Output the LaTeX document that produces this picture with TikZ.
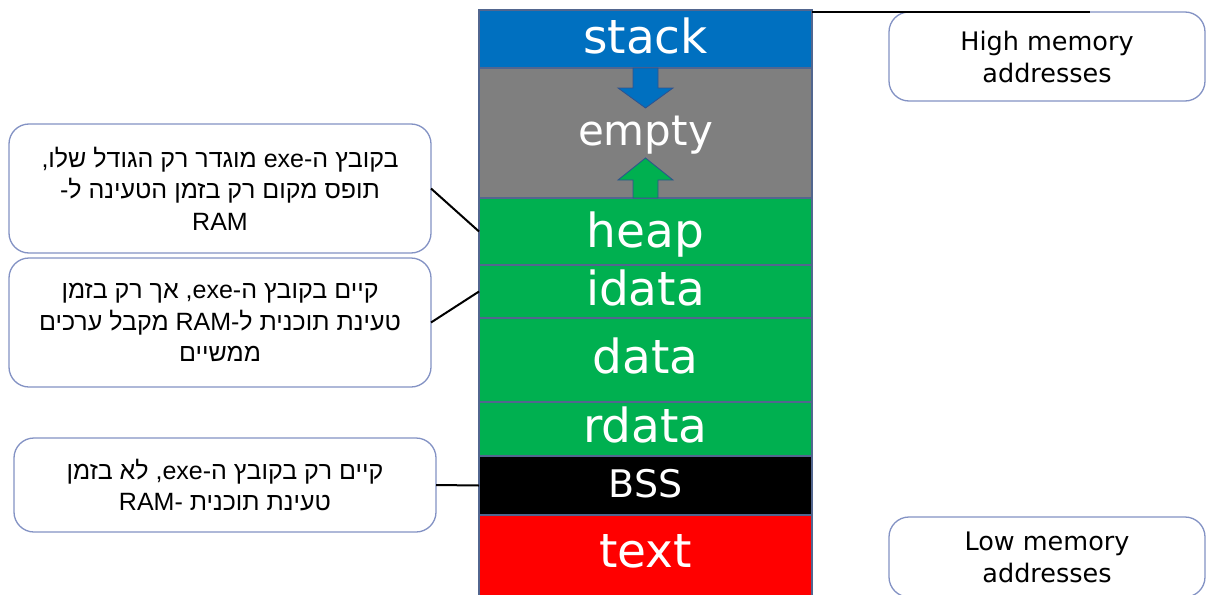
\documentclass[tikz,border=0pt]{standalone}
\usepackage{fontspec}
\setmainfont{DejaVu Sans}
\newfontfamily\hebfont[Script=Hebrew]{Liberation Sans}
\TeXXeTstate=1
\definecolor{stackblue}{HTML}{0070C0}
\definecolor{emptygray}{HTML}{7F7F7F}
\definecolor{segreen}{HTML}{00B050}
\definecolor{segred}{HTML}{FF0000}
\definecolor{segline}{HTML}{52668F}
\definecolor{boxline}{HTML}{8392C4}
\definecolor{arrowline}{HTML}{2F528F}
\tikzset{
  seg/.style={rectangle, draw=segline, line width=1.3pt, minimum width=333pt,
    inner sep=0pt, outer sep=0pt},
  seglabel/.style={anchor=base, text=white, inner sep=0pt,
    font=\fontsize{47}{47}\selectfont},
  note/.style={rectangle, rounded corners=20pt, draw=boxline, line width=1.3pt,
    fill=white, align=center, inner sep=0pt, outer sep=0pt},
  hebnote/.style={note, font=\hebfont\fontsize{25}{31.5}\selectfont},
  addrnote/.style={note, font=\fontsize{25.5}{32}\selectfont},
  link/.style={draw=black, line width=2pt},
  growarrow/.style={draw=arrowline, line width=0.8pt}
}
\begin{document}
\begin{tikzpicture}[x=1pt,y=-1pt]
\clip (0,0) rectangle (1206,594);
\fill[white] (0,0) rectangle (1206,594);

% memory segments, top to bottom
\node[seg, fill=stackblue,  minimum height=58pt] (stack) at (645.5,39) {};
\node[seg, fill=emptygray,  minimum height=130pt] (empty) at (645.5,133) {};
\node[seg, fill=segreen,    minimum height=67pt] (heap)  at (645.5,231.5) {};
\node[seg, fill=segreen,    minimum height=53pt] (idata) at (645.5,291.5) {};
\node[seg, fill=segreen,    minimum height=84pt] (data)  at (645.5,360) {};
\node[seg, fill=segreen,    minimum height=54pt] (rdata) at (645.5,429) {};
\node[seg, fill=black,      minimum height=59pt] (bss)   at (645.5,485.5) {};
\node[seg, fill=segred,     minimum height=90pt] (text)  at (645.5,560) {};

% segment names
\node[seglabel] (lstack) at (645.5,53) {stack};
\node[seglabel, font=\fontsize{42}{42}\selectfont] (lempty) at (645.5,145) {empty};
\node[seglabel] (lheap)  at (645.5,247) {heap};
\node[seglabel] (lidata) at (645.5,305) {idata};
\node[seglabel] (ldata)  at (645.5,373) {data};
\node[seglabel] (lrdata) at (645.5,442) {rdata};
\node[seglabel, font=\fontsize{38}{38}\selectfont] (lbss) at (645.5,497) {BSS};
\node[seglabel] (ltext)  at (645.5,567) {text};

% growth arrows: stack grows down, heap grows up
\path[growarrow, fill=stackblue]
  (633,68) -- (658,68) -- (658,88) -- (673,88) -- (645.5,108) -- (618,88) -- (633,88) -- cycle;
\path[growarrow, fill=segreen]
  (633,198) -- (658,198) -- (658,180) -- (673,180) -- (645.5,158) -- (618,180) -- (633,180) -- cycle;

% explanations
\node[hebnote, minimum width=422pt, minimum height=129pt] (n1) at (220,188.5) {%
  \beginR בקובץ ה-\beginL exe\endL{} מוגדר רק הגודל שלו,\endR\\
  \beginR תופס מקום רק בזמן הטעינה ל-\endR\\
  RAM};
\node[hebnote, minimum width=422pt, minimum height=129pt] (n2) at (220,322.5) {%
  \beginR קיים בקובץ ה-\beginL exe\endL, אך רק בזמן\endR\\
  \beginR טעינת תוכנית ל-\beginL RAM\endL{} מקבל ערכים\endR\\
  \beginR ממשיים\endR};
\node[hebnote, minimum width=422pt, minimum height=94pt] (n3) at (225,485) {%
  \beginR קיים רק בקובץ ה-\beginL exe\endL, לא בזמן\endR\\
  \beginR טעינת תוכנית -\beginL RAM\endL\endR};

\node[addrnote, minimum width=316pt, minimum height=89pt] (hi) at (1047,56.5)
  {High memory\\addresses};
\node[addrnote, minimum width=316pt, minimum height=80pt] (lo) at (1047,557)
  {Low memory\\addresses};

% connectors
\draw[link] (n1.east) -- (heap.west);
\draw[link] (n2.east) -- (idata.west);
\draw[link] (n3.east) -- (bss.west);
\coordinate (hitop) at (1090,12);
\draw[link] (stack.north east |- hitop) -- (hitop);
\end{tikzpicture}
\end{document}
